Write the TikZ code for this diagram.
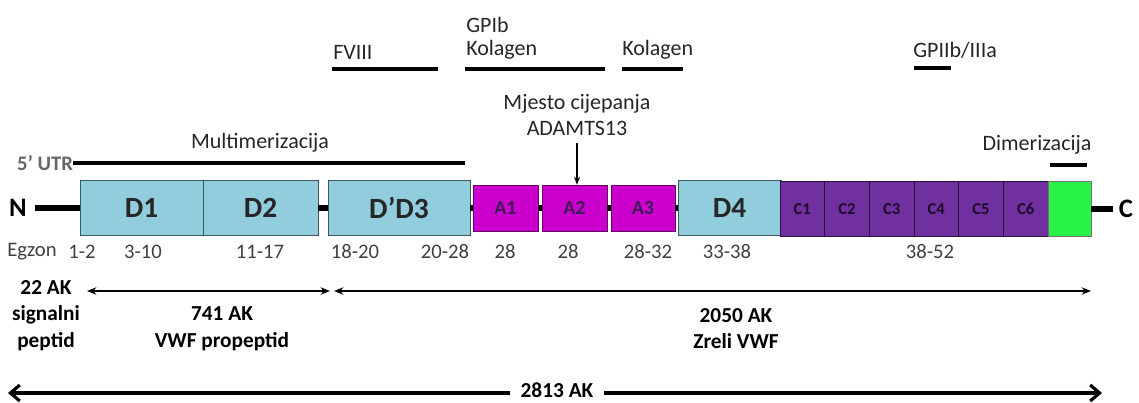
\documentclass[tikz,border=0pt]{standalone}
\usepackage{fontspec}
\setmainfont{Carlito}
\usetikzlibrary{arrows.meta}
\definecolor{vwfblue}{RGB}{146,205,221}
\definecolor{vwfmag}{RGB}{204,0,204}
\definecolor{vwfpurple}{RGB}{112,48,160}
\definecolor{vwfgreen}{RGB}{40,242,70}
\definecolor{boxline}{RGB}{60,90,100}

\begin{document}
\begin{tikzpicture}[x=0.75pt,y=-0.75pt,
  every node/.style={inner sep=0pt},
  txt/.style={font=\fontsize{16.5}{19.5}\selectfont, text=black!85},
  exon/.style={font=\fontsize{15.5}{18}\selectfont, text=black!75},
  lab/.style={font=\fontsize{16}{20}\selectfont\bfseries, align=center},
  boxw/.style={minimum width=#1*0.75pt},
  dbox/.style={draw=boxline, fill=vwfblue, minimum height=41.25pt,
    font=\fontsize{22}{26}\selectfont\bfseries, text=black!85},
  abox/.style={draw=vwfmag!50!black, fill=vwfmag, minimum height=34.5pt,
    font=\fontsize{15}{18}\selectfont\bfseries, text=vwfpurple!55!black},
  cbox/.style={draw=vwfpurple!35!black, fill=vwfpurple, minimum height=41.25pt,
    minimum width=33.5pt, font=\fontsize{12.5}{15}\selectfont\bfseries,
    text=vwfpurple!25!black},
  link/.style={line width=4.5pt},
  siteline/.style={line width=2.4pt},
  lenarrow/.style={line width=1.6pt,
    {Stealth[length=7pt,width=5.5pt]}-{Stealth[length=7pt,width=5.5pt]}},
  fullarrow/.style={line width=2.4pt,
    {Straight Barb[length=7pt,width=12pt]}-{Straight Barb[length=7pt,width=12pt]}}
]
\useasboundingbox (0,0) rectangle (1139,403);

% domains
\node[font=\fontsize{20}{24}\selectfont\bfseries, inner xsep=6pt] (n) at (18,208) {N};
\node[dbox, boxw=123] (d1) at (141.5,208) {D1};
\node[dbox, boxw=115] (d2) at (260.5,208) {D2};
\node[dbox, boxw=142] (dd3) at (399,208) {D’D3};
\node[abox, boxw=65] (a1) at (505.5,208) {A1};
\node[abox, boxw=65] (a2) at (574.5,208) {A2};
\node[abox, boxw=64] (a3) at (643,208) {A3};
\node[dbox, boxw=103] (d4) at (729.5,208) {D4};
\node[cbox] (c1) at (802.3,209) {C1};
\node[cbox] (c2) at (847,209) {C2};
\node[cbox] (c3) at (891.7,209) {C3};
\node[cbox] (c4) at (936.3,209) {C4};
\node[cbox] (c5) at (981,209) {C5};
\node[cbox] (c6) at (1025.7,209) {C6};
\node[draw=black!55, fill=vwfgreen, minimum height=41.25pt, boxw=43] (ck) at (1069.5,209) {};
\node[font=\fontsize{20}{24}\selectfont\bfseries, inner xsep=4pt] (c) at (1126,209) {C};

\draw[link] (n) -- (d1);
\draw[link] (d2) -- (dd3);
\draw[link] (dd3) -- (a1);
\draw[link] (a1) -- (a2);
\draw[link] (a2) -- (a3);
\draw[link] (a3) -- (d4);
\draw[link] (ck) -- (c);

% exons
\node[exon] (egz) at (32,252) {Egzon};
\node[exon] (e12) at (82,252) {1-2};
\node[exon] (e310) at (143,252) {3-10};
\node[exon] (e1117) at (260,252) {11-17};
\node[exon] (e1820) at (355,252) {18-20};
\node[exon] (e2028) at (445,252) {20-28};
\node[exon] (e28a) at (505,252) {28};
\node[exon] (e28b) at (568,252) {28};
\node[exon] (e2832) at (648,252) {28-32};
\node[exon] (e3338) at (727,252) {33-38};
\node[exon] (e3852) at (930,252) {38-52};

% binding sites
\node[font=\fontsize{15.5}{18}\selectfont\bfseries, text=black!60] (utr) at (45,163) {5' UTR};
\coordinate (mend) at (465,163);
\draw[siteline] (utr.east) -- (mend);
\node[txt] (mult) at (260,143) {Multimerizacija};
\node[txt, anchor=west] (fviii) at (333,52) {FVIII};
\draw[siteline] (332,69) -- (438,69);
\node[txt, anchor=west] (gpib) at (466,25) {GPIb};
\node[txt, anchor=west] (kol1) at (466,50) {Kolagen};
\draw[siteline] (465,69) -- (605,69);
\node[txt, anchor=west] (kol2) at (622,50) {Kolagen};
\draw[siteline] (622,69) -- (683,69);
\node[txt, anchor=west] (gp2) at (913,50) {GPIIb/IIIa};
\draw[siteline] (914,68) -- (951,68);
\node[txt] (dim) at (1037,145) {Dimerizacija};
\draw[siteline] (1050,165) -- (1087,165);
\node[txt, align=center] (clv) at (577,115) {Mjesto cijepanja\\ADAMTS13};
\draw[line width=0.9pt, -{Stealth[length=6pt,width=4.5pt]}, shorten <=5pt]
  (clv.south) -- (clv.south |- a2.north);

% lengths
\node[lab] (sig) at (46,315.5) {22 AK\\signalni\\peptid};
\node[lab] (pro) at (222,329) {741 AK\\VWF propeptid};
\node[lab] (mat) at (736,328.5) {2050 AK\\Zreli VWF};
\coordinate (p1) at (87,291);
\coordinate (p2) at (330,291);
\coordinate (q1) at (334,291);
\coordinate (q2) at (1091,291);
\draw[lenarrow] (p1) -- (p2);
\draw[lenarrow] (q1) -- (q2);
\coordinate (t1) at (8,393);
\coordinate (t2) at (1102,393);
\draw[fullarrow] (t1) -- (t2);
\node[lab, fill=white, inner xsep=8pt, inner ysep=1pt] (tot) at (557,390) {2813 AK};
\end{tikzpicture}
\end{document}
